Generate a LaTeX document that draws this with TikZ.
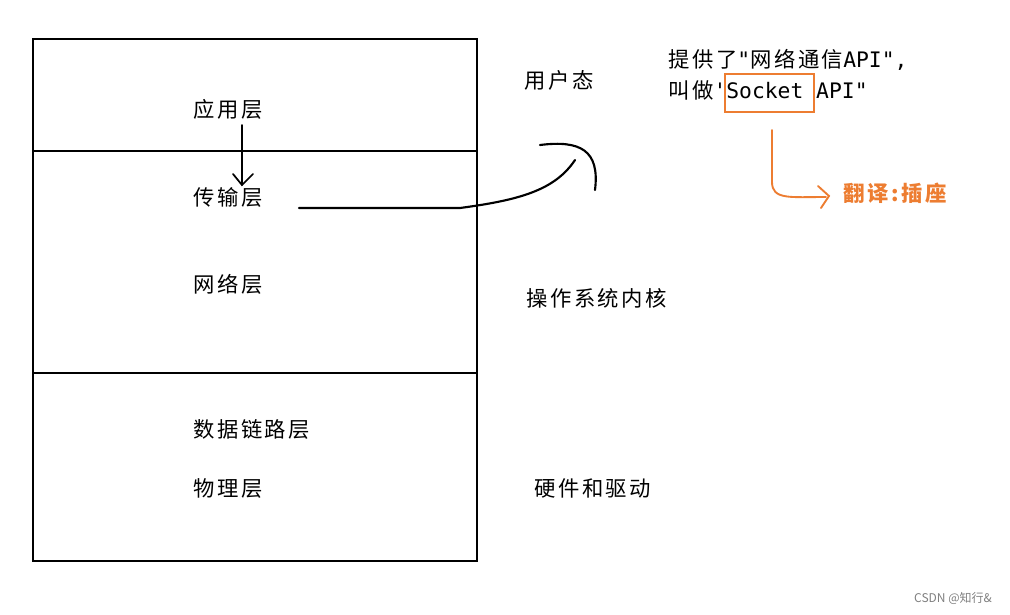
\documentclass[tikz,border=0pt]{standalone}
\usepackage{fontspec}
\newfontfamily\cjk[LetterSpace=12]{Noto Sans CJK SC}
\newfontfamily\cjkplain{Noto Sans CJK SC}
\newfontfamily\mono{DejaVu Sans Mono}
\definecolor{og}{RGB}{237,125,49}
\begin{document}
\begin{tikzpicture}[x=0.75pt,y=-0.75pt,font=\cjk\fontsize{16}{18}\selectfont,
  lbl/.style={inner sep=0pt,anchor=west}, pen/.style={line width=1.6pt,line cap=round}]
\useasboundingbox[fill=white] (0,0) rectangle (1010,614);
\node[draw,line width=1.4pt,minimum width=444*0.75pt,minimum height=522*0.75pt,inner sep=0pt] (box) at (255,300) {};
\coordinate (l1a) at (33,151); \coordinate (l1b) at (477,151);
\coordinate (l2a) at (33,373); \coordinate (l2b) at (477,373);
\draw[line width=1.4pt] (l1a) -- (l1b) (l2a) -- (l2b);
\node[lbl] (app) at (193,109) {应用层};
\node[lbl] (trans) at (193,197) {传输层};
\node[lbl] (net) at (193,284) {网络层};
\node[lbl] (dl) at (193,429) {数据链路层};
\node[lbl] (ph) at (193,488) {物理层};
\node[lbl] (user) at (524,80) {用户态};
\node[lbl] (kern) at (526,298) {操作系统内核};
\node[lbl] (hw) at (534,488) {硬件和驱动};
\node[lbl] (t1) at (668,60) {提供了{\mono"}网络通信{\mono API",}};
\node[lbl] (t2) at (668,90) {叫做{\mono'Socket API"}};
\node[draw=og,line width=1.3pt,minimum width=89*0.75pt,minimum height=38*0.75pt] (sock) at (769.5,93) {};
\node[lbl,text=og,font=\cjk\bfseries\fontsize{16}{18}\selectfont] (tr) at (843,193) {翻译:插座};
\coordinate (a0) at (242,125); \coordinate (a1) at (242,185);
\draw[pen,line width=1.3pt] (a0) -- (a1);
\draw[pen,line width=1.3pt] (233,174) -- (a1) -- (253,174);
\coordinate (c0) at (299,208);
\draw[pen] (c0) -- (460,208) .. controls (520,200) and (555,190) .. (575,160);
\draw[pen] (540,145) .. controls (580,140) and (600,150) .. (595,190);
\coordinate (o0) at (772,130);
\draw[og,line width=1.4pt,line cap=round] (o0) -- (772,182) .. controls (772,200) and (790,197) .. (826,197);
\draw[og,line width=1.4pt,line cap=round] (818,186) -- (829,196) -- (821,208);
\node[inner sep=0pt,text=gray,font=\cjkplain\fontsize{9}{10}\selectfont] at (953,598) {CSDN @知行\&};
\end{tikzpicture}
\end{document}
